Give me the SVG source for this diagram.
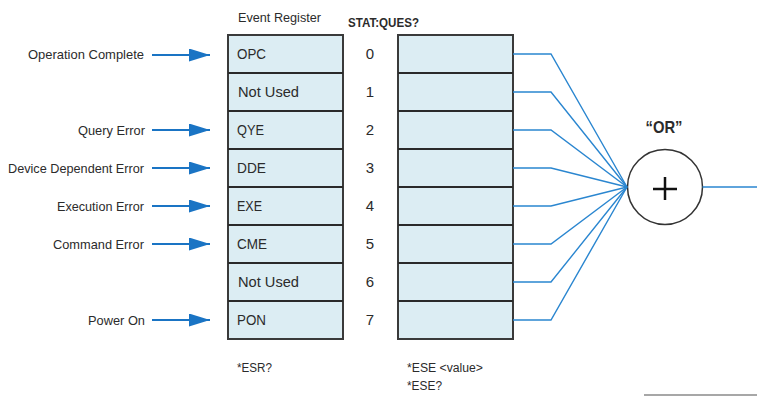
<svg xmlns="http://www.w3.org/2000/svg" width="757" height="396" viewBox="0 0 757 396">
<style>
.t{font-family:"Liberation Sans",Arial,sans-serif;fill:#2b2b2b;}
.lbl{font-size:13.5px;text-anchor:end;}
.cell{font-size:15.5px;}
.num{font-size:15px;text-anchor:middle;}
.small{font-size:12.5px;}
.reg{fill:#dcedf3;stroke:#3a3a3a;stroke-width:2;}
.div{stroke:#2a2a2a;stroke-width:2;}
.arr{stroke:#1a74c4;stroke-width:2;fill:none;}
.wire{stroke:#2a86d0;stroke-width:1.4;fill:none;}
</style>
<defs>
<marker id="ahb" viewBox="0 0 21 13" refX="21" refY="6.5" markerWidth="21" markerHeight="13" orient="auto" markerUnits="userSpaceOnUse">
<path d="M0,0 L21,6.5 L0,13 Z" fill="#1a74c4"/>
</marker>
</defs>

<text class="t small" x="238" y="22" textLength="83" lengthAdjust="spacingAndGlyphs">Event Register</text>
<text class="t" x="348" y="27" style="font-size:13px;font-weight:bold" textLength="71" lengthAdjust="spacingAndGlyphs">STAT:QUES?</text>

<g id="event-register">
<rect class="reg" x="228" y="35" width="115" height="304"/>
<line class="div" x1="228" y1="73" x2="343" y2="73"/>
<line class="div" x1="228" y1="111" x2="343" y2="111"/>
<line class="div" x1="228" y1="149" x2="343" y2="149"/>
<line class="div" x1="228" y1="187" x2="343" y2="187"/>
<line class="div" x1="228" y1="225" x2="343" y2="225"/>
<line class="div" x1="228" y1="263" x2="343" y2="263"/>
<line class="div" x1="228" y1="301" x2="343" y2="301"/>
<text class="t cell" x="237" y="59" textLength="29" lengthAdjust="spacingAndGlyphs">OPC</text>
<text class="t cell" x="238" y="97" textLength="61" lengthAdjust="spacingAndGlyphs">Not Used</text>
<text class="t cell" x="237" y="135" textLength="27" lengthAdjust="spacingAndGlyphs">QYE</text>
<text class="t cell" x="237" y="173" textLength="29" lengthAdjust="spacingAndGlyphs">DDE</text>
<text class="t cell" x="237" y="211" textLength="25" lengthAdjust="spacingAndGlyphs">EXE</text>
<text class="t cell" x="237" y="249" textLength="30" lengthAdjust="spacingAndGlyphs">CME</text>
<text class="t cell" x="238" y="287" textLength="61" lengthAdjust="spacingAndGlyphs">Not Used</text>
<text class="t cell" x="237" y="325" textLength="29" lengthAdjust="spacingAndGlyphs">PON</text>
</g>

<g id="bit-numbers">
<text class="t num" x="370" y="59">0</text>
<text class="t num" x="370" y="97">1</text>
<text class="t num" x="370" y="135">2</text>
<text class="t num" x="370" y="173">3</text>
<text class="t num" x="370" y="211">4</text>
<text class="t num" x="370" y="249">5</text>
<text class="t num" x="370" y="287">6</text>
<text class="t num" x="370" y="325">7</text>
</g>

<g id="enable-register">
<rect class="reg" x="398" y="35" width="115" height="304"/>
<line class="div" x1="398" y1="73" x2="513" y2="73"/>
<line class="div" x1="398" y1="111" x2="513" y2="111"/>
<line class="div" x1="398" y1="149" x2="513" y2="149"/>
<line class="div" x1="398" y1="187" x2="513" y2="187"/>
<line class="div" x1="398" y1="225" x2="513" y2="225"/>
<line class="div" x1="398" y1="263" x2="513" y2="263"/>
<line class="div" x1="398" y1="301" x2="513" y2="301"/>
</g>

<g id="inputs">
<text class="t lbl" x="144" y="59" textLength="116" lengthAdjust="spacingAndGlyphs">Operation Complete</text>
<text class="t lbl" x="145" y="135" textLength="67" lengthAdjust="spacingAndGlyphs">Query Error</text>
<text class="t lbl" x="144" y="173" textLength="136" lengthAdjust="spacingAndGlyphs">Device Dependent Error</text>
<text class="t lbl" x="144" y="211" textLength="87" lengthAdjust="spacingAndGlyphs">Execution Error</text>
<text class="t lbl" x="144" y="249" textLength="91" lengthAdjust="spacingAndGlyphs">Command Error</text>
<text class="t lbl" x="145" y="325" textLength="57" lengthAdjust="spacingAndGlyphs">Power On</text>
</g>

<g id="or-gate">
<text class="t" x="664" y="133" style="font-size:17px;font-weight:bold;text-anchor:middle" textLength="37" lengthAdjust="spacingAndGlyphs">“OR”</text>
<circle cx="665" cy="187" r="37.5" fill="#fff" stroke="#333" stroke-width="1.5"/>
<line x1="653" y1="189" x2="677" y2="189" stroke="#111" stroke-width="2.5"/>
<line x1="665" y1="177" x2="665" y2="200" stroke="#111" stroke-width="2.5"/>
</g>

<g id="connectors">
<line class="arr" x1="152" y1="55" x2="210" y2="55" marker-end="url(#ahb)"/>
<line class="arr" x1="152" y1="130" x2="210" y2="130" marker-end="url(#ahb)"/>
<line class="arr" x1="152" y1="168" x2="210" y2="168" marker-end="url(#ahb)"/>
<line class="arr" x1="152" y1="206" x2="210" y2="206" marker-end="url(#ahb)"/>
<line class="arr" x1="152" y1="244" x2="210" y2="244" marker-end="url(#ahb)"/>
<line class="arr" x1="152" y1="320" x2="210" y2="320" marker-end="url(#ahb)"/>
<polyline class="wire" points="513,54 551,54 627,187"/>
<polyline class="wire" points="513,92 551,92 627,187"/>
<polyline class="wire" points="513,130 551,130 627,187"/>
<polyline class="wire" points="513,168 551,168 627,187"/>
<polyline class="wire" points="513,206 551,206 627,187"/>
<polyline class="wire" points="513,244 551,244 627,187"/>
<polyline class="wire" points="513,282 551,282 627,187"/>
<polyline class="wire" points="513,320 551,320 627,187"/>
<line class="wire" x1="702.5" y1="187" x2="757" y2="187"/>
</g>

<text class="t small" x="237" y="372" textLength="35" lengthAdjust="spacingAndGlyphs">*ESR?</text>
<text class="t small" x="407" y="372" textLength="76" lengthAdjust="spacingAndGlyphs">*ESE &lt;value&gt;</text>
<text class="t small" x="407" y="390" textLength="35" lengthAdjust="spacingAndGlyphs">*ESE?</text>
<line x1="644" y1="395" x2="757" y2="395" stroke="#8a8a8a" stroke-width="1.5"/>
</svg>
